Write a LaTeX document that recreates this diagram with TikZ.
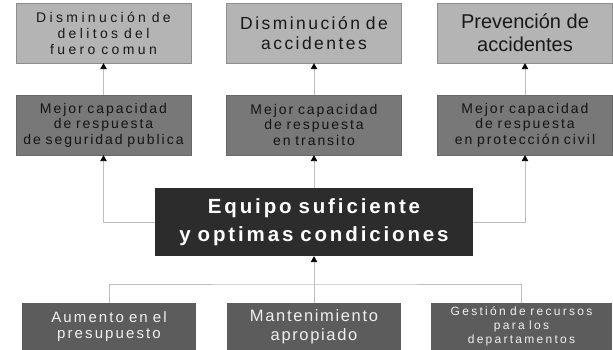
\documentclass[tikz,border=0pt]{standalone}
\usepackage{fontspec}
\setmainfont{Liberation Sans}
\newfontfamily\widefont[LetterSpace=24,WordSpace=0.8]{Liberation Sans}
\newfontfamily\spacedfont[LetterSpace=19,WordSpace=0.8]{Liberation Sans}
\newfontfamily\midfont[LetterSpace=14,WordSpace=0.8]{Liberation Sans}
\newfontfamily\narrowfont[LetterSpace=10]{Liberation Sans}
\newfontfamily\plainfont{Liberation Sans}
\usetikzlibrary{arrows.meta}
\definecolor{goalgray}{HTML}{B4B4B4}
\definecolor{goalline}{HTML}{8E8E8E}
\definecolor{capgray}{HTML}{787878}
\definecolor{capline}{HTML}{686868}
\definecolor{coregray}{HTML}{2C2C2C}
\definecolor{basegray}{HTML}{5C5C5C}
\definecolor{linkgray}{HTML}{BDBDBD}

\begin{document}
\begin{tikzpicture}[x=1pt,y=1pt,
  box/.style={rectangle, align=center, inner sep=0pt},
  goal/.style={box, fill=goalgray, draw=goalline, text=black!90,
    minimum width=175pt, minimum height=60pt},
  capacity/.style={box, fill=capgray, draw=capline, text=black!92,
    minimum width=175pt, minimum height=60pt,
    font=\midfont\fontsize{14}{15.5}\selectfont},
  core/.style={box, fill=coregray, text=white,
    minimum width=318pt, minimum height=68pt,
    font=\midfont\bfseries\fontsize{20.5}{28}\selectfont},
  base/.style={box, fill=basegray, text=white!94!black,
    minimum height=47pt},
  link/.style={draw=linkgray, line width=0.9pt},
  tip/.style={-{Triangle[width=6.5pt,length=6pt,color=black]}}]
\useasboundingbox (0,0) rectangle (613,350);

% top row
\node[goal, font=\widefont\fontsize{14}{16}\selectfont] (fewcrime) at (103.5,317)
  {Disminución de\\delitos del\\fuero comun};
\node[goal, font=\midfont\fontsize{17.5}{20.5}\selectfont] (fewacc) at (314,317)
  {Disminución de\\accidentes};
\node[goal, font=\plainfont\fontsize{20}{23}\selectfont] (prevacc) at (525,317)
  {Prevención de\\accidentes};

% middle row
\node[capacity] (secresp) at (103.5,225) {Mejor capacidad\\de respuesta\\de seguridad publica};
\node[capacity] (trafresp) at (314,225) {Mejor capacidad\\de respuesta\\en transito};
\node[capacity] (civresp) at (525,225) {Mejor capacidad\\de respuesta\\en protección civil};

% center
\node[core] (equipo) at (314,128) {Equipo suficiente\\y optimas condiciones};

% bottom row
\node[base, minimum width=174pt, font=\midfont\fontsize{15}{16.5}\selectfont] (budget) at (109,23.5)
  {Aumento en el\\presupuesto};
\node[base, minimum width=174pt, font=\narrowfont\fontsize{16.5}{19}\selectfont] (upkeep) at (314,23.5)
  {Mantenimiento\\apropiado};
\node[base, minimum width=181pt, font=\spacedfont\fontsize{12}{14}\selectfont] (depts) at (521.5,23.5)
  {Gestión de recursos\\para los\\departamentos};

% connectors
\draw[link, tip] (secresp) -- (fewcrime);
\draw[link, tip] (trafresp) -- (fewacc);
\draw[link, tip] (civresp) -- (prevacc);
\draw[link, tip] (equipo.west) -| (secresp.south);
\draw[link, tip] (equipo.north) -- (trafresp.south);
\draw[link, tip] (equipo.east) -| (civresp.south);
\coordinate (bus) at (314,66);
\draw[link] (budget.north) |- (bus) -| (depts.north);
\draw[link, tip] (upkeep.north) -- (equipo.south);
\end{tikzpicture}
\end{document}
